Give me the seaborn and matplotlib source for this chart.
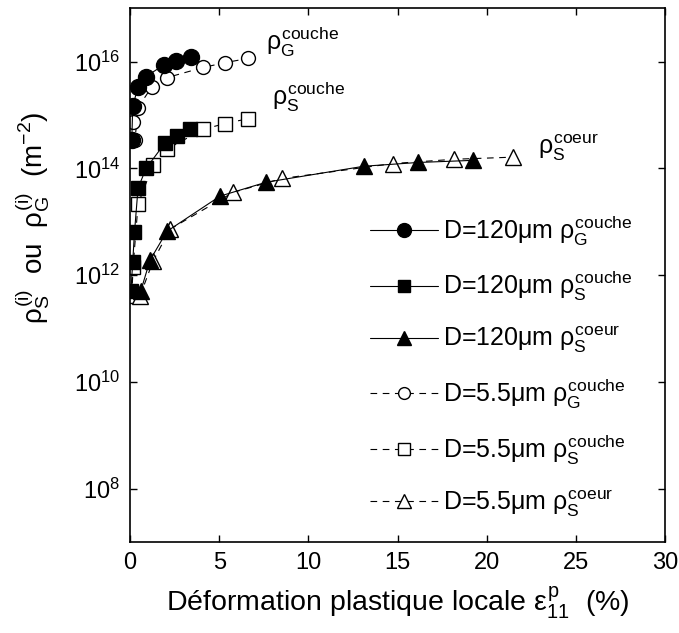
import numpy as np
import pandas as pd
import matplotlib
matplotlib.use('Agg')
import matplotlib.pyplot as plt
import seaborn as sns

# Données (x en %, y en m^-2)
x_g120 = [0.1, 0.15, 0.45, 0.9, 1.9, 2.6, 3.4]
y_g120 = [10**14.54, 10**15.16, 10**15.53, 10**15.72, 10**15.94, 10**16.02, 10**16.09]

x_s120 = [0.05, 0.15, 0.25, 0.45, 0.9, 1.95, 2.65, 3.35]
y_s120 = [10**11.70, 10**12.24, 10**12.80, 10**13.63, 10**14.00, 10**14.47, 10**14.60, 10**14.73]

x_c120 = [0.6, 1.12, 2.07, 5.05, 7.63, 13.12, 16.15, 19.24]
y_c120 = [10**11.70, 10**12.28, 10**12.82, 10**13.48, 10**13.74, 10**14.04, 10**14.11, 10**14.15]

x_g55 = [0.17, 0.28, 0.45, 1.23, 2.07, 4.1, 5.33, 6.62]
y_g55 = [10**14.86, 10**14.54, 10**15.14, 10**15.53, 10**15.70, 10**15.89, 10**15.98, 10**16.06]

x_s55 = [0.1, 0.17, 0.45, 1.3, 2.07, 4.1, 5.33, 6.62]
y_s55 = [10**11.61, 10**12.15, 10**13.33, 10**14.07, 10**14.36, 10**14.73, 10**14.84, 10**14.93]

x_c55 = [0.56, 1.29, 2.24, 5.78, 8.52, 14.75, 18.17, 21.48]
y_c55 = [10**11.61, 10**12.26, 10**12.86, 10**13.55, 10**13.81, 10**14.09, 10**14.17, 10**14.21]

labels = [r'D=120$\mu$m $\rho_G^{couche}$', r'D=120$\mu$m $\rho_S^{couche}$',
          r'D=120$\mu$m $\rho_S^{coeur}$', r'D=5.5$\mu$m $\rho_G^{couche}$',
          r'D=5.5$\mu$m $\rho_S^{couche}$', r'D=5.5$\mu$m $\rho_S^{coeur}$']

sns.set_theme(style='ticks')
plt.rcParams['font.family'] = ['Liberation Sans', 'DejaVu Sans']
plt.rcParams['mathtext.fontset'] = 'custom'
plt.rcParams['mathtext.rm'] = 'Liberation Sans'
plt.rcParams['mathtext.it'] = 'Liberation Sans'
plt.rcParams['mathtext.bf'] = 'Liberation Sans:bold'
for k in ['text.color', 'axes.labelcolor', 'xtick.color', 'ytick.color', 'axes.edgecolor']:
    plt.rcParams[k] = 'black'

fig = plt.figure(figsize=(6.79, 6.33), dpi=100)
ax = fig.add_axes([0.1915, 0.1438, 0.788, 0.8432])

dash = (0, (6, 5))
series = [
    (x_g120, y_g120, 'o', 'black', '-', 11.5),
    (x_s120, y_s120, 's', 'black', '-', 10.5),
    (x_c120, y_c120, '^', 'black', '-', 12),
    (x_g55, y_g55, 'o', 'white', dash, 10),
    (x_s55, y_s55, 's', 'white', dash, 9.5),
    (x_c55, y_c55, '^', 'white', dash, 11),
]
leg_ms = [10, 9, 10.5, 8.5, 8, 9.5]

# on trace d'abord les symboles ouverts, puis les pleins par-dessus
order = [3, 4, 5, 0, 1, 2]
handles = [None] * 6
for i in order:
    xs, ys, m, fc, ls, ms = series[i]
    df = pd.DataFrame({'x': xs, 'y': ys})
    sns.lineplot(data=df, x='x', y='y', ax=ax, sort=False, color='black',
                 linestyle=ls, linewidth=0.8, marker=m, markersize=ms,
                 markerfacecolor=fc, markeredgecolor='black', markeredgewidth=1.0)
    handles[i] = plt.Line2D([], [], color='black', linestyle=ls, linewidth=0.8,
                            marker=m, markersize=leg_ms[i], markerfacecolor=fc,
                            markeredgecolor='black', markeredgewidth=1.0)

ax.set_yscale('log')
ax.set_xlim(0, 30)
ax.set_ylim(1e7, 1e17)
ax.set_xticks([0, 5, 10, 15, 20, 25, 30])
ax.set_yticks([1e8, 1e10, 1e12, 1e14, 1e16])
ax.yaxis.set_minor_locator(matplotlib.ticker.NullLocator())
ax.tick_params(direction='in', which='both', top=True, right=True, length=5,
               width=1, labelsize=17, pad=7)
for sp in ax.spines.values():
    sp.set_linewidth(1.2)

ax.set_xlabel(r'Déformation plastique locale $\varepsilon_{11}^{p}$  (%)', fontsize=20.5, labelpad=8)
ax.set_ylabel(r'$\rho_S^{(i)}$  ou  $\rho_G^{(i)}$  (m$^{-2}$)', fontsize=20)
ax.yaxis.set_label_coords(-0.145, 0.607)

ax.text(7.6, 10**16.37, r'$\rho_G^{couche}$', fontsize=18, va='center')
ax.text(7.95, 10**15.33, r'$\rho_S^{couche}$', fontsize=18, va='center')
ax.text(22.9, 10**14.39, r'$\rho_S^{coeur}$', fontsize=18, va='center')

ax.legend(handles, labels, loc='upper left', bbox_to_anchor=(0.43, 0.634),
          frameon=False, fontsize=18, handlelength=2.7, handletextpad=0.2,
          labelspacing=0.86, borderaxespad=0)

fig.savefig('out.png', dpi=100)
